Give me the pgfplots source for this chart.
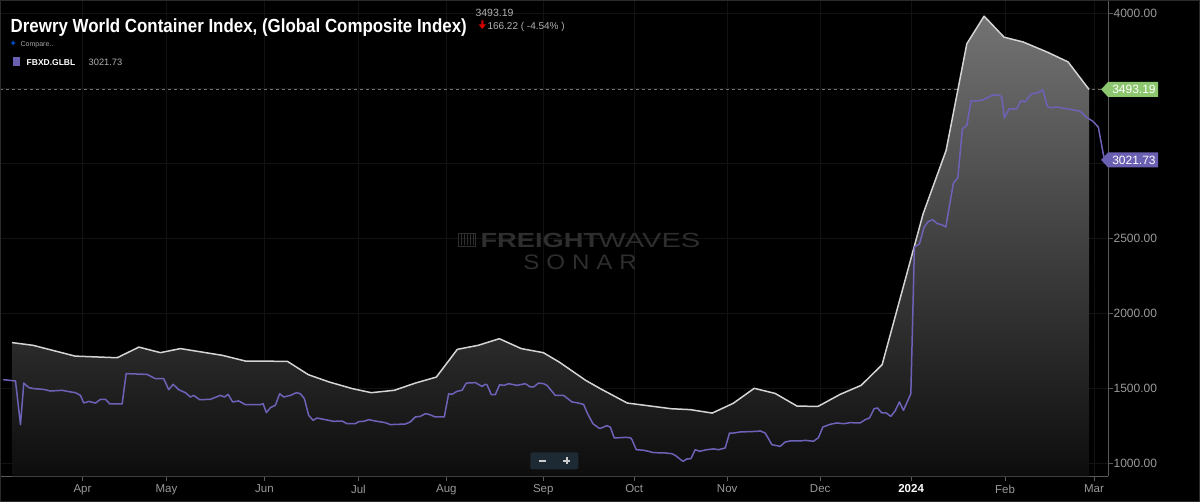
\documentclass[border=0pt]{standalone}
\usepackage{pgfplots}
\pgfplotsset{compat=1.18}
\usepackage{fontspec}
\usepackage{graphicx}
\setmainfont{Liberation Sans}
\definecolor{gridc}{HTML}{121212}
\definecolor{axisc}{HTML}{5A5A5A}
\definecolor{tickc}{HTML}{9A9A9A}
\definecolor{linew}{HTML}{D4D4D4}
\definecolor{purp}{HTML}{6C63B8}
\definecolor{tagg}{HTML}{8CC66E}
\definecolor{tagp}{HTML}{6A60B2}
\definecolor{dashc}{HTML}{6E7468}
\definecolor{wmc}{HTML}{2E2E2E}
\definecolor{ctrlc}{HTML}{1E2A33}
\definecolor{framec}{HTML}{2A2A2A}
\begin{document}
\begin{tikzpicture}[x=1pt,y=1pt]
\fill[black] (0,-26) rectangle (1200,476);
\begin{axis}[at={(0,0)}, anchor=south west, scale only axis,
  width=1108pt, height=476pt,
  xmin=0, xmax=1108, ymin=913.33, ymax=4086.67,
  axis x line*=bottom, axis y line*=right,
  axis line style={-, draw=axisc, line width=1pt},
  xtick={82,166,264,358,446,543,634,727,820,911,1005,1094},
  xticklabels={Apr,May,Jun,Jul,Aug,Sep,Oct,Nov,Dec,{\bfseries\color{white}2024},Feb,Mar},
  ytick={1000,1500,2000,2500,3000,3500,4000},
  yticklabels={1000.00,1500.00,2000.00,2500.00,,,4000.00},
  grid=major, grid style={draw=gridc, line width=1pt},
  tick style={draw=axisc, line width=1pt},
  major tick length=5pt, tick align=outside,
  ticklabel style={font=\fontsize{11.5}{12}\selectfont, text=tickc},
  yticklabel style={xshift=-3pt, font=\fontsize{12}{12}\selectfont},
  xticklabel style={yshift=0pt},
]
\draw[dashc, dash pattern=on 3pt off 3pt, line width=0.8pt] (axis cs:0,3493.19) -- (axis cs:1101,3493.19);
% shaded area under the Drewry WCI line
\addplot[draw=none, top color=black!50!white!90!black, bottom color=black!95!white] coordinates {
(11.5,913.33) (11.5,1805) (32.5,1787) (74.6,1715) (116.7,1704) (138.5,1775) (160,1738) (180,1765) (222,1720) (245,1682) (287,1680) (308,1591) (329,1542) (352,1498) (371,1471) (394,1487) (415,1535) (436,1575) (457,1760) (478,1787) (499,1831) (521,1765) (543,1738) (559,1675) (585.5,1553) (600,1498) (627,1402) (671,1364) (690,1358) (712,1335) (733,1400) (754,1500) (775,1466) (797,1381) (818,1380) (840,1460) (861,1520) (882,1658) (923,2664) (946,3087) (966.7,3798) (984,3982) (1004,3842) (1023,3810) (1047,3743) (1068,3677) (1089,3493.19) (1089,913.33)};
% Drewry WCI line
\addplot[linew, line width=1.5pt, line join=round] coordinates {
(11.5,1805) (32.5,1787) (74.6,1715) (116.7,1704) (138.5,1775) (160,1738) (180,1765) (222,1720) (245,1682) (287,1680) (308,1591) (329,1542) (352,1498) (371,1471) (394,1487) (415,1535) (436,1575) (457,1760) (478,1787) (499,1831) (521,1765) (543,1738) (559,1675) (585.5,1553) (600,1498) (627,1402) (671,1364) (690,1358) (712,1335) (733,1400) (754,1500) (775,1466) (797,1381) (818,1380) (840,1460) (861,1520) (882,1658) (923,2664) (946,3087) (966.7,3798) (984,3982) (1004,3842) (1023,3810) (1047,3743) (1068,3677) (1089,3493.19)};
% FBXD.GLBL line
\addplot[purp, line width=1.5pt, line join=round] coordinates {
(2.7,1558) (15,1549) (20,1258) (23.3,1535) (28.3,1505) (33.3,1498) (43.3,1493) (50,1482) (61.7,1487) (66.7,1480) (75,1471) (80,1453) (83.3,1402) (88.3,1413) (95,1402) (100,1427) (105,1427) (109.3,1396) (121.7,1396) (125.7,1598) (146.7,1593) (155,1564) (163.3,1564) (168.3,1491) (172.7,1527) (178.3,1491) (185,1471) (190,1442) (193.3,1453) (199.3,1424) (210,1427) (220,1453) (224,1442) (227.7,1460) (232.3,1409) (238.3,1416) (245,1391) (260,1391) (262.7,1398) (266,1338) (270,1371) (275,1387) (279.3,1464) (283.3,1442) (290,1453) (296,1471) (300,1464) (304,1431) (308.3,1320) (312.7,1287) (316.7,1302) (325,1291) (333.3,1280) (341.7,1282) (346.7,1264) (355,1264) (358.3,1278) (363.3,1280) (368.3,1291) (375,1282) (385,1271) (390,1258) (405,1262) (410,1276) (415,1309) (420,1313) (425,1331) (428.3,1327) (435,1309) (444,1309) (448.3,1464) (451.7,1460) (456.7,1480) (461.7,1487) (466,1535) (475,1538) (481.7,1513) (485,1527) (486.7,1524) (491,1458) (495,1458) (499.3,1524) (504,1520) (508.3,1531) (516.7,1520) (525,1531) (530,1509) (533.3,1509) (538.3,1535) (543.3,1531) (546.7,1520) (555,1453) (563.3,1453) (571.7,1409) (576.7,1404) (583.3,1393) (587.3,1331) (592.7,1264) (598.3,1236) (600,1233) (606.7,1251) (610,1242) (614,1169) (620,1171) (625,1173) (630,1171) (631.7,1158) (636,1091) (643.3,1087) (648.3,1080) (653.3,1071) (665,1069) (671.7,1064) (675,1053) (682.7,1013) (686.7,1029) (690.7,1031) (695,1091) (699.3,1080) (706.7,1091) (713.3,1096) (718.3,1091) (725,1102) (729.3,1202) (733.3,1202) (740,1209) (756.7,1213) (760,1216) (765,1202) (768.3,1164) (771.7,1124) (780,1113) (785,1142) (790,1149) (800,1149) (805,1153) (813.3,1147) (818.3,1171) (822.7,1242) (830,1260) (836.7,1269) (843.3,1264) (850,1271) (860,1269) (865,1291) (869.3,1302) (874,1364) (877.3,1369) (881.7,1336) (886,1336) (890.7,1313) (895,1350) (899.3,1409) (903.3,1353) (910.7,1464) (914.3,2442) (919.3,2464) (924,2576) (928.3,2613) (932.7,2624) (937.3,2598) (941.7,2591) (945.7,2576) (953.3,2869) (957.7,2904) (962.3,3231) (966.7,3253) (971,3420) (976,3416) (983.3,3424) (988.3,3442) (993.3,3458) (1000,3453) (1001.7,3442) (1004.3,3304) (1009,3364) (1016.7,3364) (1021,3420) (1025,3409) (1031,3464) (1037.3,3469) (1042.7,3491) (1047.3,3380) (1051.7,3371) (1056.7,3376) (1066.7,3364) (1080,3349) (1086,3309) (1092.7,3282) (1098.3,3242) (1103.3,3060) (1105,3021.73)};
\end{axis}
% zoom control
\fill[ctrlc, rounded corners=2pt] (530,7) rectangle (578,24);
\draw[white!80!black, line width=1.6pt] (538.5,15.5) -- (545.5,15.5);
\draw[white!80!black, line width=1.6pt] (563,15.5) -- (570,15.5) (566.5,12) -- (566.5,19);
% value tags
\fill[tagg] (1101,387) -- (1108,394.5) -- (1158,394.5) -- (1158,379.5) -- (1108,379.5) -- cycle;
\node[anchor=west, inner sep=0, text=white] at (1112,387) {\fontsize{12}{12}\selectfont 3493.19};
\fill[tagp] (1101,316.5) -- (1108,324) -- (1158,324) -- (1158,309) -- (1108,309) -- cycle;
\node[anchor=west, inner sep=0, text=white] at (1112,316.5) {\fontsize{12}{12}\selectfont 3021.73};
% watermark
\draw[wmc, line width=1pt] (458.5,230) rectangle (475,243);
\foreach \xx in {461,464,467,470,473} {\draw[wmc, line width=1pt] (\xx,231) -- (\xx,242);}
\node[anchor=base west, inner sep=0, text=wmc] at (480,229) {\fontsize{20.5}{20}\selectfont\bfseries\scalebox{1.33}[1]{FREIGHT}};
\node[anchor=base west, inner sep=0, text=wmc] at (598,229) {\fontsize{20.5}{20}\selectfont\scalebox{1.42}[1]{WAVES}};
\node[anchor=base west, inner sep=0, text=wmc] at (523,207) {\fontsize{21}{21}\selectfont\scalebox{1.15}[1]{S\hspace{6pt}O\hspace{6pt}N\hspace{6pt}A\hspace{6pt}R}};
% title block
\node[anchor=base west, inner sep=0, text=white] at (10,444) {\fontsize{19}{20}\selectfont\bfseries\scalebox{0.89}[1]{Drewry World Container Index, (Global Composite Index)}};
\node[anchor=base west, inner sep=0, text=white!70!black] at (475,460) {\fontsize{10.5}{11}\selectfont 3493.19};
\fill[red!85!black] (481,456) rectangle (483,452) (478.5,452) -- (485.5,452) -- (482,447.5) -- cycle;
\node[anchor=base west, inner sep=0, text=white!70!black] at (487,447) {\fontsize{10}{11}\selectfont 166.22 ( -4.54\% )};
\node[anchor=base west, inner sep=0, text=blue!60!cyan] at (10,430) {\fontsize{9}{9}\selectfont\bfseries +};
\node[anchor=base west, inner sep=0, text=white!65!black] at (20,430) {\fontsize{7}{8}\selectfont Compare..};
\fill[tagp] (13,410) rectangle (19.5,419);
\node[anchor=base west, inner sep=0, text=white] at (26,411) {\fontsize{8.5}{9}\selectfont\bfseries FBXD.GLBL};
\node[anchor=base west, inner sep=0, text=white!70!black] at (88,411) {\fontsize{9.3}{10}\selectfont 3021.73};
% frame
\draw[framec, line width=1pt] (0.5,-25.5) rectangle (1199.5,475.5);
\end{tikzpicture}
\end{document}
